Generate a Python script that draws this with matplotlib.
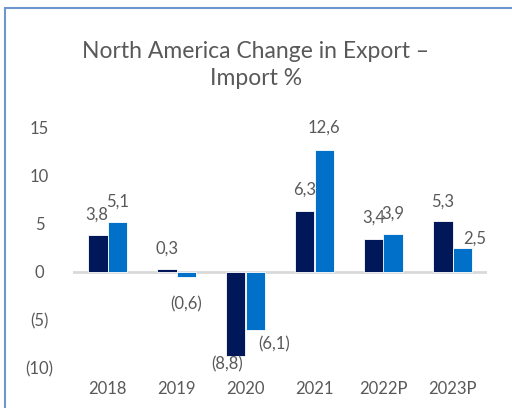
import matplotlib.pyplot as plt
import numpy as np
from matplotlib.patches import Rectangle

plt.rcParams["font.family"] = ["Lato", "DejaVu Sans"]

years = ["2018", "2019", "2020", "2021", "2022P", "2023P"]
export_chg = [3.8, 0.3, -8.8, 6.3, 3.4, 5.3]
import_chg = [5.1, -0.6, -6.1, 12.6, 3.9, 2.5]
yticks = [-10, -5, 0, 5, 10, 15]

# label nudges in pixels (dx right, dy up) from the bar end
export_dx = [-1, 0, -9, 0, 0, 0]
export_dy = [20, 20, -8, 21, 21, 19]
import_dx = [0, 0, 19, 0, 0, 13]
import_dy = [21, -27, -14, 23, 20, 9]

DARK = "#00175A"
BLUE = "#0070C8"
TXT = "#595959"
PX = 72 / 100  # points per pixel at dpi=100


def fmt(v):
    s = f"{abs(v):.1f}".replace(".", ",")
    return f"({s})" if v < 0 else s


def tick_fmt(v):
    return f"({abs(v)})" if v < 0 else f"{v}"


fig = plt.figure(figsize=(5.12, 4.08), dpi=100)
fig.patch.set_facecolor("white")

# frame around the chart, running off the right and bottom edges
fig.patches.append(Rectangle((5 / 512, -0.1), 1.2, 1 - 8 / 408 + 0.1,
                             transform=fig.transFigure, fill=False,
                             edgecolor="#6F96CF", linewidth=1.5))

ax = fig.add_axes([73 / 512, 1 - 368 / 408, (487 - 73) / 512, (368 - 127) / 408])
x = np.arange(len(years))
w = 0.28
ax.bar(x - w / 2, export_chg, w, color=DARK, edgecolor="white", linewidth=0.6, zorder=2)
ax.bar(x + w / 2, import_chg, w, color=BLUE, edgecolor="white", linewidth=0.6, zorder=2)
ax.axhline(0, color="#D9D9D9", linewidth=2, zorder=1)

for xs, vals, dxs, dys in [(x - w / 2, export_chg, export_dx, export_dy),
                           (x + w / 2, import_chg, import_dx, import_dy)]:
    for xi, v, dx, dy in zip(xs, vals, dxs, dys):
        ax.annotate(fmt(v), (xi, v), xytext=(dx * PX, dy * PX), textcoords="offset points",
                    ha="center", va="center", fontsize=12, color=TXT, zorder=3,
                    annotation_clip=False)

ax.set_xlim(-0.5, len(years) - 0.5)
ax.set_ylim(-10, 15)
ax.set_yticks(yticks)
ax.set_yticklabels([tick_fmt(t) for t in yticks])
ax.set_xticks(x)
ax.set_xticklabels(years)
ax.tick_params(axis="both", length=0, labelsize=12, labelcolor=TXT)
ax.tick_params(axis="y", pad=24)
ax.tick_params(axis="x", pad=9)
for lbl in ax.get_yticklabels():
    lbl.set_horizontalalignment("center")
for s in ax.spines.values():
    s.set_visible(False)

fig.text(0.5, 1 - 65 / 408, "North America Change in Export –\nImport %", ha="center",
         va="center", fontsize=16.5, color=TXT, linespacing=1.3)

fig.savefig("out.png", dpi=100)
